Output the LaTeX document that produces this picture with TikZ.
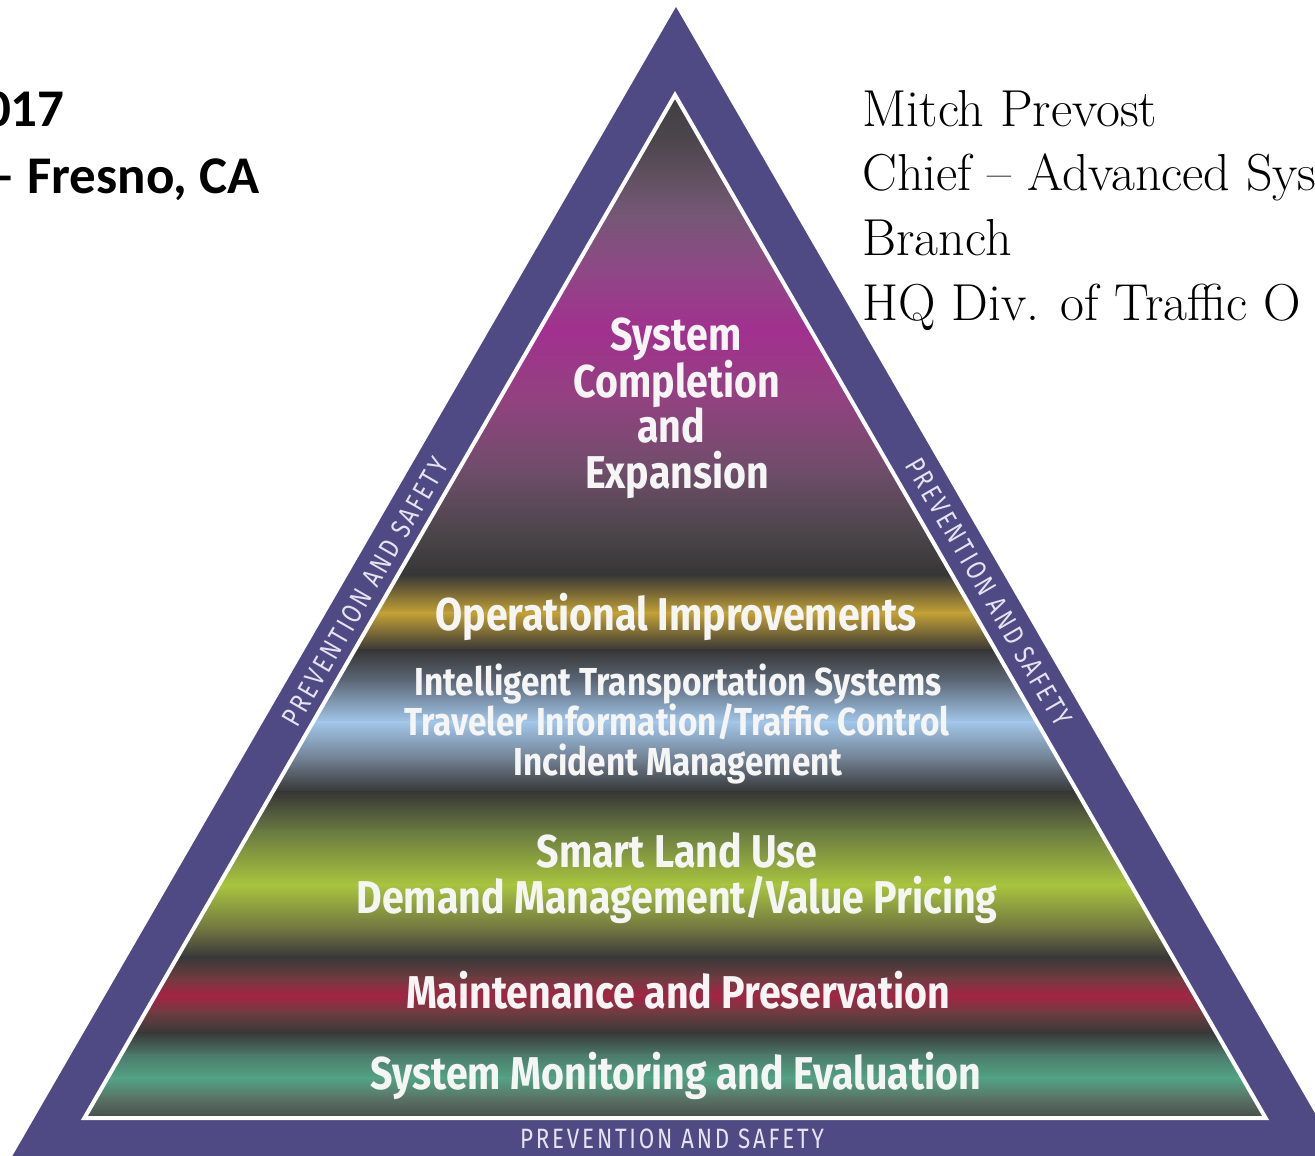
\documentclass[tikz,border=0pt]{standalone}
\usepackage{fontspec}
\newfontfamily\calib{Carlito}
\newfontfamily\pyr[FakeStretch=0.855]{Fira Sans}
\newfontfamily\psf[FakeStretch=0.8,LetterSpace=10]{Fira Sans}
\definecolor{pband}{HTML}{4F4A84}
\definecolor{lbl}{HTML}{E4E4F0}
\definecolor{s0}{HTML}{3C3C3C}
\definecolor{s1}{HTML}{4C464C}
\definecolor{s2}{HTML}{735874}
\definecolor{s3}{HTML}{8E4885}
\definecolor{s4}{HTML}{A2308F}
\definecolor{s5}{HTML}{92427F}
\definecolor{s6}{HTML}{6F4D6A}
\definecolor{s7}{HTML}{4A4549}
\definecolor{s8}{HTML}{363636}
\definecolor{s9}{HTML}{C4A236}
\definecolor{s10}{HTML}{363636}
\definecolor{s11}{HTML}{5E6A7A}
\definecolor{s12}{HTML}{A2C7EA}
\definecolor{s13}{HTML}{6C7A8A}
\definecolor{s14}{HTML}{363636}
\definecolor{s15}{HTML}{687840}
\definecolor{s16}{HTML}{A9C53E}
\definecolor{s17}{HTML}{6C7040}
\definecolor{s18}{HTML}{383838}
\definecolor{s19}{HTML}{6E3C40}
\definecolor{s20}{HTML}{A42444}
\definecolor{s21}{HTML}{6E3C40}
\definecolor{s22}{HTML}{383838}
\definecolor{s23}{HTML}{4C7A6A}
\definecolor{s24}{HTML}{52A386}
\definecolor{s25}{HTML}{5A7466}
\definecolor{s26}{HTML}{404040}
\tikzset{
  big/.style={text=white!96!black, inner sep=0pt, anchor=base, font=\pyr\bfseries\fontsize{23}{23}\selectfont},
  mid/.style={text=white!96!black, inner sep=0pt, anchor=base, font=\pyr\bfseries\fontsize{19.5}{20}\selectfont},
  pslabel/.style={text=lbl, inner sep=0pt, anchor=center, font=\psf\fontsize{14}{14}\selectfont},
  serifline/.style={text=black, inner sep=0pt, anchor=base west, font=\fontsize{26}{26}\selectfont},
  calibline/.style={text=black, inner sep=0pt, anchor=base east, font=\calib\bfseries\fontsize{26.5}{26.5}\selectfont}
}
\begin{document}
\begin{tikzpicture}[x=0.5pt,y=-0.5pt]
\useasboundingbox (0,0) rectangle (1315,1155);
\clip (0,0) rectangle (1315,1155);
\fill[white] (0,0) rectangle (1315,1155);
% outer triangle
\fill[pband] (676,7) -- (-13,1200) -- (1365,1200) -- cycle;
% inner gradient triangle
\begin{scope}
\clip (675,95) -- (84.4,1118) -- (1265.6,1118) -- cycle;
\foreach \ya/\ca/\yb/\cb in {80/s0/140/s1,140/s1/210/s2,210/s2/270/s3,270/s3/330/s4,330/s4/400/s5,400/s5/470/s6,470/s6/535/s7,535/s7/575/s8,575/s8/613/s9,613/s9/650/s10,650/s10/682/s11,682/s11/722/s12,722/s12/762/s13,762/s13/792/s14,792/s14/830/s15,830/s15/885/s16,885/s16/932/s17,932/s17/957/s18,957/s18/978/s19,978/s19/995/s20,995/s20/1013/s21,1013/s21/1033/s22,1033/s22/1055/s23,1055/s23/1078/s24,1078/s24/1098/s25,1098/s25/1125/s26}
  {\shade[top color=\ca, bottom color=\cb] (0,\ya-0.6) rectangle (1315,\yb+0.6);}
\end{scope}
\draw[white, line width=2pt, line join=miter] (675,95) -- (84.4,1118) -- (1265.6,1118) -- cycle;
% side labels
\node[pslabel, rotate=60] (psl) at (365,592) {PREVENTION AND SAFETY};
\node[pslabel, rotate=-60] (psr) at (989,592) {PREVENTION AND SAFETY};
\node[pslabel] (psb) at (672,1139) {PREVENTION AND SAFETY};
% tier texts
\node[big] (sc1) at (676,350) {System};
\node[big] (sc2) at (677,397) {Completion};
\node[big] (sc3) at (671,442) {and};
\node[big] (sc4) at (677,488) {Expansion};
\node[big] (op) at (676,630) {Operational Improvements};
\node[mid] (its1) at (678,695) {Intelligent Transportation Systems};
\node[mid] (its2) at (677,735) {Traveler Information/Traffic Control};
\node[mid] (its3) at (678,775) {Incident Management};
\node[big] (sl1) at (677,867) {Smart Land Use};
\node[big] (sl2) at (677,913) {Demand Management/Value Pricing};
\node[big] (mp) at (678,1008) {Maintenance and Preservation};
\node[big] (sm) at (676,1089) {System Monitoring and Evaluation};
% header texts
\node[calibline] (h1) at (65,127) {017};
\node[calibline] (h2) at (260,193) {– Fresno, CA};
\node[serifline] (r1) at (862,127) {Mitch Prevost};
\node[serifline] (r2) at (862,191) {Chief – Advanced Sys};
\node[serifline] (r3) at (862,256) {Branch};
\node[serifline] (r4) at (862,320) {HQ Div. of Traffic O};
\end{tikzpicture}
\end{document}
